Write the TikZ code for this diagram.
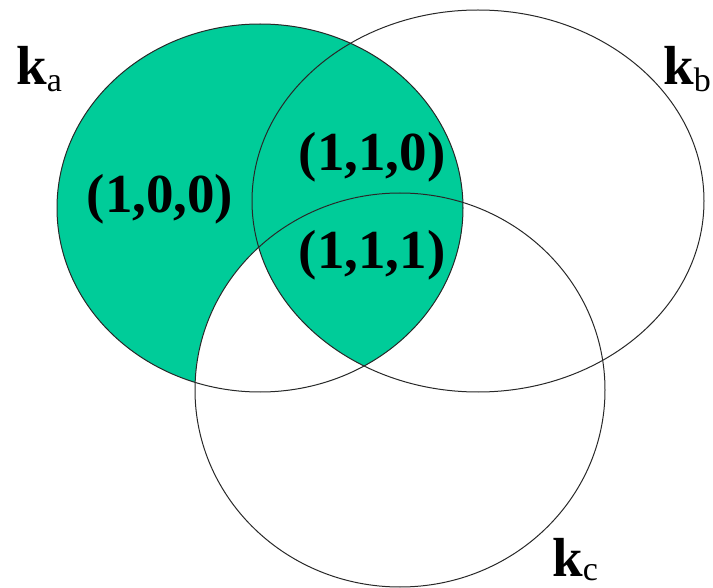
\documentclass[tikz,border=0pt]{standalone}
\usepackage{fontspec}
\setmainfont{Liberation Serif}
\definecolor{vgreen}{RGB}{0,204,153}
\definecolor{vline}{RGB}{40,40,40}
\begin{document}
\begin{tikzpicture}[x=1pt,y=-1pt,
  region/.style={font=\fontsize{55}{60}\selectfont\bfseries, inner sep=0pt},
  setlabel/.style={font=\fontsize{55}{60}\selectfont\bfseries, inner sep=0pt, anchor=base west},
  outline/.style={draw=vline, line width=1pt}]
\useasboundingbox (0,0) rectangle (713,588);
\def\ellA{(260,208) ellipse [x radius=203, y radius=184]}
\def\ellB{(478,201) ellipse [x radius=226, y radius=191]}
\def\ellC{(400,390) ellipse [x radius=205, y radius=197]}
% filled set A
\fill[vgreen] \ellA;
\begin{scope}
  \clip \ellA;
  \fill[white] \ellC;
  \clip \ellC;
  \fill[vgreen] \ellB;
\end{scope}
\draw[outline] \ellA;
\draw[outline] \ellB;
\draw[outline] \ellC;
% labels
\node[region] (r100) at (160,199) {(1,0,0)};
\node[region] (r110) at (372,157) {(1,1,0)};
\node[region] (r111) at (372,255) {(1,1,1)};
\node[setlabel] (ka) at (16,85) {k\raisebox{-7pt}{\fontsize{34}{40}\selectfont\mdseries a}};
\node[setlabel] (kb) at (663,85) {k\raisebox{-7pt}{\fontsize{34}{40}\selectfont\mdseries b}};
\node[setlabel] (kc) at (552,576) {k\raisebox{-4pt}{\fontsize{34}{40}\selectfont\mdseries c}};
\end{tikzpicture}
\end{document}
